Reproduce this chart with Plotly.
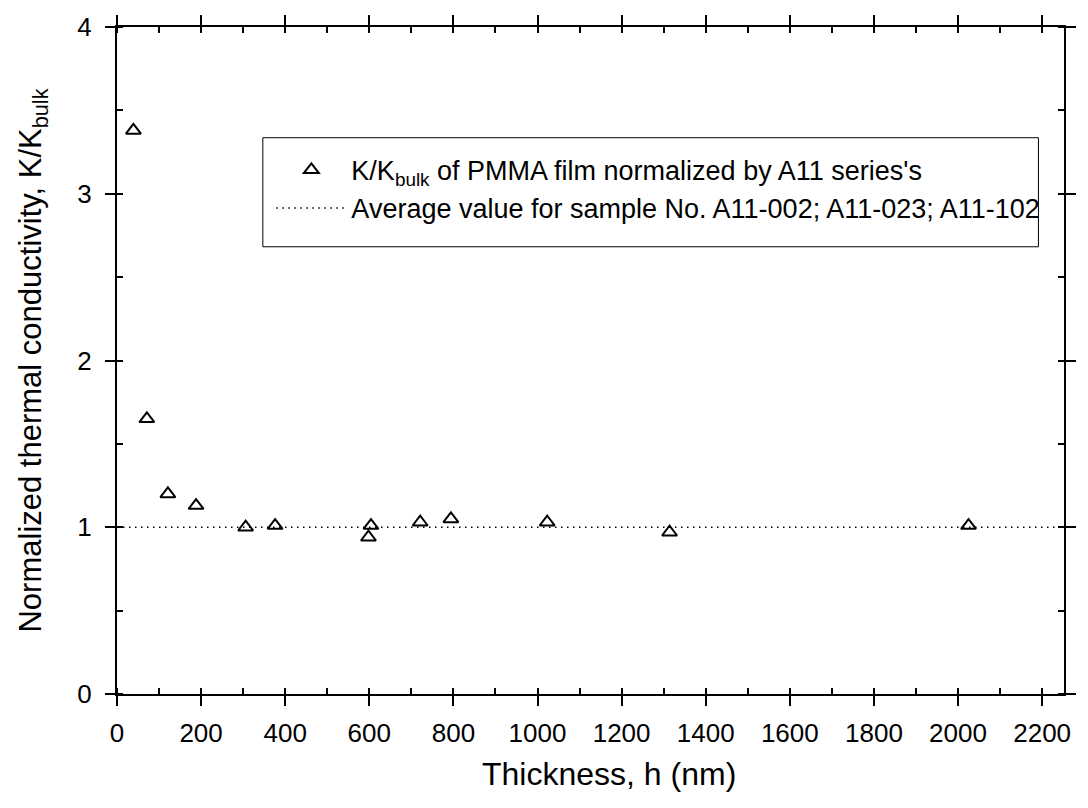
import plotly.graph_objects as go

# Data
thickness_nm = [39, 71, 121, 188, 306, 376, 598, 604, 721, 794, 1023, 1314, 2025]
k_ratio = [3.38, 1.65, 1.20, 1.13, 1.00, 1.01, 0.94, 1.01, 1.03, 1.05, 1.03, 0.97, 1.01]
avg_x = [0, 2252]
avg_y = [1.0, 1.0]

x_ticks = [0, 200, 400, 600, 800, 1000, 1200, 1400, 1600, 1800, 2000, 2200]
y_ticks = [0, 1, 2, 3, 4]

x_title = "Thickness, h (nm)"
y_title = "Normalized thermal conductivity, K/K<sub>bulk</sub>"

FONT = "Arial, Liberation Sans, sans-serif"

fig = go.Figure()
fig.add_trace(go.Scatter(
    x=thickness_nm, y=k_ratio, mode="markers",
    name="K/K<sub>bulk</sub> of PMMA film normalized by A11 series's",
    marker=dict(symbol="triangle-up-open", size=13, color="black",
                line=dict(width=2, color="black")),
))
fig.add_trace(go.Scatter(
    x=avg_x, y=avg_y, mode="lines",
    name="Average value for sample No. A11-002; A11-023; A11-102",
    line=dict(color="black", width=1.5, dash="1.5px,4.5px"),
))

axis_common = dict(
    showline=True, linecolor="black", linewidth=2,
    ticks="outside", ticklen=10, tickwidth=2, tickcolor="black",
    mirror="allticks", showgrid=False, zeroline=False,
    tickfont=dict(family=FONT, size=26, color="black"),
)

fig.update_xaxes(
    range=[0, 2252], tickmode="array", tickvals=x_ticks,
    minor=dict(ticks="inside", ticklen=6, tickwidth=2, tickcolor="black", dtick=100, tick0=0),
    ticklabelstandoff=5,
    **axis_common,
)
fig.update_yaxes(
    range=[0, 4], tickmode="array", tickvals=y_ticks,
    minor=dict(ticks="inside", ticklen=6, tickwidth=2, tickcolor="black", dtick=0.5, tick0=0),
    title=dict(text=y_title, font=dict(family=FONT, size=31, color="black"), standoff=26),
    ticklabelstandoff=8,
    **axis_common,
)

# x-axis title
fig.add_annotation(text=x_title, xref="paper", yref="paper", x=0.52, y=-0.120,
                   xanchor="center", yanchor="middle", showarrow=False,
                   font=dict(family=FONT, size=32, color="black"))

# legend frame
fig.add_shape(type="rect", xref="paper", yref="paper",
              x0=0.154, x1=0.973, y0=0.6705, y1=0.834,
              line=dict(color="black", width=1), fillcolor="rgba(0,0,0,0)")

fig.update_layout(
    width=1088, height=808, autosize=False,
    margin=dict(l=117, r=12, t=23, b=114),
    plot_bgcolor="white", paper_bgcolor="white",
    showlegend=True,
    legend=dict(x=0.163, y=0.822, xanchor="left", yanchor="top",
                bgcolor="rgba(0,0,0,0)", borderwidth=0, itemwidth=70,
                font=dict(family=FONT, size=27, color="black"), tracegroupgap=0),
    font=dict(family=FONT, color="black"),
)

fig.write_html("out.html")
